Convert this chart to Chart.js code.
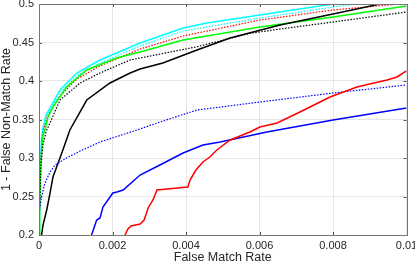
<!DOCTYPE html>
<html>
<head>
<meta charset="utf-8">
<script src="https://cdn.jsdelivr.net/npm/chart.js@4/dist/chart.umd.min.js"></script>
<style>
  body { margin: 0; background: #fff; }
  canvas { display: block; }
</style>
</head>
<body>
<canvas id="roc" width="415" height="265"></canvas>
<script>
// [false match rate, 1 - false non-match rate]
const cyanSolid = [[0,0.2],[0.0000136,0.2455],[0.0000354,0.2909],[0.000068,0.3234],[0.000109,0.339],[0.00019,0.3558],[0.0003,0.3649],[0.00057,0.3883],[0.00103,0.4104],[0.00166,0.4273],[0.00211,0.4364],[0.00275,0.4494],[0.00392,0.4688],[0.00457,0.4753],[0.00601,0.4857],[0.0080,0.5]];
const cyanDotted = [[0,0.2],[0.000016,0.2455],[0.00004,0.2909],[0.000076,0.3234],[0.000122,0.339],[0.0002,0.3545],[0.0003,0.3623],[0.00057,0.3844],[0.00103,0.4065],[0.00166,0.4234],[0.00211,0.4325],[0.00275,0.4455],[0.00392,0.4649],[0.00601,0.4818],[0.0080,0.4961],[0.00865,0.5]];
const redDotted = [[0,0.2],[0.000016,0.2455],[0.000044,0.2909],[0.000082,0.3234],[0.000136,0.339],[0.00022,0.352],[0.0003,0.3597],[0.00057,0.3805],[0.00103,0.4026],[0.00166,0.4195],[0.00211,0.4286],[0.00275,0.4416],[0.00392,0.4584],[0.00601,0.4792],[0.0080,0.4922],[0.0098,0.5]];
const greenSolid = [[0,0.2],[0.000019,0.2455],[0.000049,0.2909],[0.000073,0.3104],[0.000109,0.3299],[0.000163,0.3364],[0.000245,0.3532],[0.00038,0.3662],[0.00075,0.3922],[0.0013,0.4143],[0.00211,0.4299],[0.00275,0.4377],[0.00392,0.4532],[0.00601,0.4701],[0.0080,0.4831],[0.01,0.4974]];
const blackDotted = [[0,0.2],[0.000022,0.2455],[0.000054,0.2909],[0.000109,0.3169],[0.00019,0.3338],[0.0003,0.3455],[0.00057,0.3753],[0.00112,0.3974],[0.00166,0.4104],[0.00248,0.4273],[0.0043,0.4445],[0.00574,0.4619],[0.00656,0.4675],[0.0080,0.4766],[0.01,0.4896]];
const blackSolid = [[0.00007,0.2],[0.00011,0.213],[0.00021,0.2325],[0.0003,0.2545],[0.00038,0.2753],[0.00052,0.2935],[0.00065,0.3104],[0.00084,0.3364],[0.0013,0.3753],[0.00193,0.3974],[0.00248,0.4104],[0.00275,0.4156],[0.00337,0.4234],[0.0043,0.4403],[0.0052,0.4558],[0.00656,0.4727],[0.0080,0.487],[0.00928,0.5]];
const blueDotted = [[0,0.2299],[0.00007,0.2494],[0.00016,0.2675],[0.0003,0.2818],[0.00044,0.2909],[0.00075,0.3],[0.00112,0.3091],[0.00166,0.3208],[0.00267,0.3364],[0.00337,0.348],[0.0043,0.3623],[0.00601,0.3727],[0.0080,0.3844],[0.01,0.3948]];
const blueSolid = [[0.00143,0.2],[0.00157,0.2195],[0.00166,0.2221],[0.00174,0.2364],[0.00201,0.2545],[0.00212,0.2558],[0.00229,0.2584],[0.00275,0.2779],[0.00329,0.2909],[0.00392,0.3065],[0.00446,0.3169],[0.00493,0.3208],[0.0062,0.3338],[0.0080,0.3494],[0.01,0.3649]];
const redSolid = [[0.00234,0.2],[0.00242,0.2078],[0.0025,0.2117],[0.00275,0.2143],[0.00286,0.2195],[0.00297,0.2351],[0.0031,0.2455],[0.00321,0.2584],[0.00405,0.2623],[0.00411,0.2714],[0.00427,0.2844],[0.00446,0.2948],[0.00465,0.3013],[0.00484,0.3104],[0.0052,0.3234],[0.00574,0.3338],[0.00601,0.3403],[0.00648,0.3455],[0.0071,0.3597],[0.00792,0.3792],[0.00865,0.3922],[0.00947,0.4013],[0.00974,0.4052],[0.01,0.413]];

const xTickLabels = ['0', '0.002', '0.004', '0.006', '0.008', '0.01'];
const yTickLabels = ['0.2', '0.25', '0.3', '0.35', '0.4', '0.45', '0.5'];

const pts = arr => arr.map(p => ({ x: p[0], y: p[1] }));

function line(data, color, dotted) {
    return {
        data: pts(data),
        borderColor: color,
        borderWidth: dotted ? 1.2 : 1.5,
        borderDash: dotted ? [1.5, 1.5] : [],
        pointRadius: 0,
        tension: 0,
        fill: false
    };
}

// inward tick marks and a full box, like the original axes
const boxTicks = {
    id: 'boxTicks',
    afterDraw(chart) {
        const { ctx, chartArea: a, scales: { x, y } } = chart;
        ctx.save();
        ctx.strokeStyle = '#555';
        ctx.lineWidth = 1;
        ctx.beginPath();
        x.ticks.forEach(t => {
            const px = Math.round(x.getPixelForValue(t.value)) + 0.5;
            ctx.moveTo(px, a.bottom); ctx.lineTo(px, a.bottom - 3);
            ctx.moveTo(px, a.top); ctx.lineTo(px, a.top + 3);
        });
        y.ticks.forEach(t => {
            const py = Math.round(y.getPixelForValue(t.value)) + 0.5;
            ctx.moveTo(a.left, py); ctx.lineTo(a.left + 3, py);
            ctx.moveTo(a.right, py); ctx.lineTo(a.right - 3, py);
        });
        ctx.stroke();
        ctx.strokeStyle = '#777';
        ctx.strokeRect(Math.round(a.left) + 0.5, Math.round(a.top) + 0.5,
            Math.round(a.right - a.left), Math.round(a.bottom - a.top));
        ctx.restore();
    }
};

new Chart(document.getElementById('roc').getContext('2d'), {
    type: 'line',
    data: {
        datasets: [
            line(redSolid, '#ff0000', false),
            line(blueSolid, '#0000ff', false),
            line(blueDotted, '#0000ff', true),
            line(blackSolid, '#000000', false),
            line(blackDotted, '#000000', true),
            line(greenSolid, '#00ff00', false),
            line(redDotted, '#ff0000', true),
            line(cyanDotted, '#00ffff', true),
            line(cyanSolid, '#00ffff', false)
        ]
    },
    options: {
        responsive: false,
        animation: false,
        devicePixelRatio: 1,
        layout: { padding: { top: 4, right: 8.5, left: 0, bottom: 0 } },
        plugins: { legend: { display: false }, tooltip: { enabled: false } },
        scales: {
            x: {
                type: 'linear',
                min: 0,
                max: 0.01,
                afterFit: s => { s.height = 30; s.paddingLeft = 0; s.paddingRight = 0; },
                ticks: {
                    stepSize: 0.002,
                    padding: 4,
                    maxRotation: 0,
                    color: '#262626',
                    font: { family: 'Liberation Sans', size: 11 },
                    callback: (v, i) => xTickLabels[i]
                },
                grid: { color: '#e6e6e6', drawTicks: false },
                border: { display: false },
                title: {
                    display: true,
                    text: 'False Match Rate',
                    color: '#262626',
                    padding: 0,
                    font: { family: 'Liberation Sans', size: 12.5, lineHeight: 1.2 }
                }
            },
            y: {
                min: 0.2,
                max: 0.5,
                afterFit: s => { s.width = 39; s.paddingTop = 0; s.paddingBottom = 0; },
                ticks: {
                    stepSize: 0.05,
                    padding: 5,
                    color: '#262626',
                    font: { family: 'Liberation Sans', size: 11 },
                    callback: (v, i) => yTickLabels[i]
                },
                grid: { color: '#e6e6e6', drawTicks: false },
                border: { display: false },
                title: {
                    display: true,
                    text: '1 - False Non-Match Rate',
                    color: '#262626',
                    padding: 0,
                    font: { family: 'Liberation Sans', size: 12.5, lineHeight: 1 }
                }
            }
        }
    },
    plugins: [boxTicks]
});
</script>
</body>
</html>
